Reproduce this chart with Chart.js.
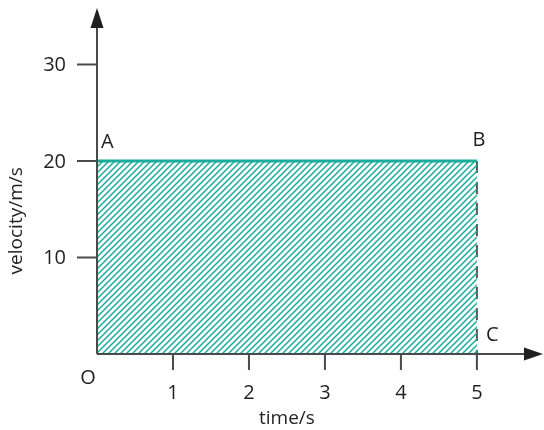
<!DOCTYPE html>
<html>
<head>
<meta charset="utf-8">
<script src="https://cdn.jsdelivr.net/npm/chart.js@4"></script>
<style>
  html, body { margin: 0; padding: 0; background: #fff; }
  canvas { display: block; }
</style>
</head>
<body>
<canvas id="vt-chart" width="544" height="430"></canvas>
<script>
// values
const timeValues = [0, 5];
const velocityValues = [20, 20];
const xTicks = [1, 2, 3, 4, 5];
const yTicks = [10, 20, 30];
const pointLabels = [
    { text: 'A', x: 0, y: 20 },
    { text: 'B', x: 5, y: 20 },
    { text: 'C', x: 5, y: 0 }
];

const FONT = '"Open Sans", "DejaVu Sans", sans-serif';
const INK = '#231f20';
const AXIS = '#4a4a4a';
const TEAL = '#1aab9b';

function makeHatch() {
    const c = document.createElement('canvas');
    c.width = 6;
    c.height = 6;
    const g = c.getContext('2d');
    g.strokeStyle = TEAL;
    g.lineWidth = 1.5;
    g.beginPath();
    g.moveTo(-1, 7); g.lineTo(7, -1);
    g.moveTo(-1, 1); g.lineTo(1, -1);
    g.moveTo(5, 7); g.lineTo(7, 5);
    g.stroke();
    return g.createPattern(c, 'repeat');
}

const axesPlugin = {
    id: 'axesPlugin',
    afterDraw(chart) {
        const ctx = chart.ctx;
        const x = chart.scales.x;
        const y = chart.scales.y;
        const x0 = x.getPixelForValue(0);
        const y0 = y.getPixelForValue(0);
        const area = chart.chartArea;

        ctx.save();
        ctx.strokeStyle = AXIS;
        ctx.fillStyle = INK;
        ctx.lineWidth = 2;

        // axis lines
        ctx.beginPath();
        ctx.moveTo(x0, y0);
        ctx.lineTo(x0, area.top + 18);
        ctx.moveTo(x0, y0);
        ctx.lineTo(area.right - 18, y0);
        ctx.stroke();

        // arrow heads
        ctx.beginPath();
        ctx.moveTo(x0, area.top);
        ctx.lineTo(x0 - 6.5, area.top + 20);
        ctx.lineTo(x0 + 6.5, area.top + 20);
        ctx.closePath();
        ctx.fill();
        ctx.beginPath();
        ctx.moveTo(area.right, y0);
        ctx.lineTo(area.right - 19, y0 - 6.5);
        ctx.lineTo(area.right - 19, y0 + 6.5);
        ctx.closePath();
        ctx.fill();

        // ticks
        ctx.beginPath();
        yTicks.forEach(v => {
            const py = y.getPixelForValue(v);
            ctx.moveTo(x0 - 20, py);
            ctx.lineTo(x0, py);
        });
        xTicks.forEach(v => {
            const px = x.getPixelForValue(v);
            ctx.moveTo(px, y0);
            ctx.lineTo(px, y0 + 16);
        });
        ctx.stroke();

        // tick labels
        ctx.font = '20px ' + FONT;
        ctx.textBaseline = 'middle';
        ctx.textAlign = 'right';
        yTicks.forEach(v => {
            ctx.fillText(String(v), x0 - 31, y.getPixelForValue(v) + 1);
        });
        ctx.textAlign = 'center';
        xTicks.forEach(v => {
            ctx.fillText(String(v), x.getPixelForValue(v), y0 + 39);
        });
        ctx.fillText('O', x0 - 9, y0 + 24);

        // point labels
        const a = pointLabels[0], b = pointLabels[1], c = pointLabels[2];
        ctx.textAlign = 'left';
        ctx.fillText(a.text, x.getPixelForValue(a.x) + 4, y.getPixelForValue(a.y) - 19);
        ctx.textAlign = 'center';
        ctx.fillText(b.text, x.getPixelForValue(b.x) + 2, y.getPixelForValue(b.y) - 21);
        ctx.textAlign = 'left';
        ctx.fillText(c.text, x.getPixelForValue(c.x) + 9, y.getPixelForValue(c.y) - 19);

        // axis titles
        ctx.font = '19px ' + FONT;
        ctx.textAlign = 'center';
        ctx.fillText('time/s', x.getPixelForValue(2.5), y0 + 65);
        ctx.translate(17, y.getPixelForValue(13.8));
        ctx.rotate(-Math.PI / 2);
        ctx.fillText('velocity/m/s', 0, 0);
        ctx.restore();
    }
};

document.addEventListener('DOMContentLoaded', () => {
    const ctx = document.getElementById('vt-chart').getContext('2d');

    new Chart(ctx, {
        type: 'line',
        data: {
            datasets: [
                {
                    label: 'velocity',
                    data: timeValues.map((t, i) => ({ x: t, y: velocityValues[i] })),
                    borderColor: TEAL,
                    borderWidth: 3,
                    backgroundColor: makeHatch(),
                    fill: 'origin',
                    pointRadius: 0,
                    tension: 0
                },
                {
                    label: 'BC',
                    data: [
                        { x: timeValues[1], y: velocityValues[1] },
                        { x: timeValues[1], y: 0 }
                    ],
                    borderColor: '#555555',
                    borderWidth: 2,
                    borderDash: [12, 9],
                    fill: false,
                    pointRadius: 0
                }
            ]
        },
        options: {
            responsive: false,
            animation: false,
            events: [],
            layout: {
                padding: { left: 97, right: 1, top: 8, bottom: 76 }
            },
            plugins: {
                legend: { display: false },
                tooltip: { enabled: false }
            },
            scales: {
                x: { type: 'linear', display: false, min: 0, max: 5.87 },
                y: { type: 'linear', display: false, min: 0, max: 35.85 }
            }
        },
        plugins: [axesPlugin]
    });
});
</script>
</body>
</html>
